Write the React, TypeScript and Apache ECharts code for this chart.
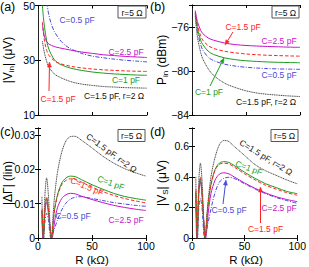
import React, { useEffect, useRef } from "react";
import * as echarts from "echarts";

const FONT = "'Liberation Sans', Arial, Helvetica, sans-serif";
const C_GRAY = "#4a4a4a";
const C_GREEN = "#1c9c1c";
const C_RED = "#ff2424";
const C_MAG = "#c814c8";
const C_BLUE = "#4848d8";

// ---------- panel (a): |Vin| (uV)
const rA = [4, 5, 6, 8, 10, 15, 20, 30, 40, 50, 60, 70, 80, 90, 100];
const rABlue = [8, 10, 12, 15, 20, 25, 30, 40, 50, 60, 70, 80, 90, 100];
const vinMag = [43, 40.5, 38.5, 36.8, 35.9, 35, 34.5, 33.7, 33.0, 32.5, 32.0, 31.7, 31.4, 31.2, 31.0];
const vinRed = [44, 40, 37, 33.5, 31.8, 29.8, 28.8, 27.8, 27.2, 26.8, 26.5, 26.3, 26.1, 26.0, 25.9];
const vinGreen = [50, 45.5, 42, 37, 34, 30.2, 28.6, 27.1, 26.3, 25.7, 25.3, 25.0, 24.8, 24.6, 24.5];
const vinGray = [37, 34.5, 32.5, 29.5, 27.5, 25, 23.8, 22.2, 21.3, 20.8, 20.4, 20.2, 20.0, 19.9, 19.8];
const vinBlue = [51, 46.5, 43.5, 40.5, 37.5, 35.5, 34.2, 32.5, 31.5, 30.9, 30.4, 30.0, 29.7, 29.4];

// ---------- panel (b): Pin (dBm)
const rB = [3, 5, 8, 10, 15, 20, 30, 40, 50, 60, 70, 80, 90, 100];
const pinMag = [-74.5, -75.5, -76.3, -76.6, -77.0, -77.2, -77.45, -77.6, -77.68, -77.73, -77.77, -77.8, -77.83, -77.85];
const pinRed = [-74.6, -75.8, -76.8, -77.2, -77.7, -77.95, -78.2, -78.35, -78.45, -78.52, -78.57, -78.6, -78.63, -78.65];
const pinGreen = [-74.7, -76.1, -77.2, -77.6, -78.2, -78.5, -78.8, -78.97, -79.07, -79.13, -79.18, -79.21, -79.23, -79.25];
const pinBlue = [-74.8, -76.4, -77.6, -78.1, -78.75, -79.05, -79.38, -79.55, -79.66, -79.73, -79.78, -79.81, -79.83, -79.85];
const pinGray = [-75.0, -76.9, -78.3, -78.9, -79.8, -80.4, -81.1, -81.5, -81.8, -82.0, -82.12, -82.2, -82.27, -82.32];

// ---------- panel (c): |dGamma| (lin)
const rCGray = [3.6, 4.8, 6.5, 8, 9.5, 12.3, 15, 18, 22, 26, 30, 34, 40, 50, 60, 70, 80, 90, 100];
const gamGray = [0.012, 0, 0.013, 0.0175, 0.013, 0, 0.011, 0.019, 0.025, 0.0283, 0.0295, 0.0296, 0.0285, 0.0262, 0.0238, 0.0218, 0.0202, 0.019, 0.018];
const rCGreen = [3.8, 5, 6.5, 8, 9.5, 12.5, 15, 18, 22, 26, 30, 35, 40, 50, 60, 70, 80, 90, 100];
const gamGreen = [0.008, 0, 0.008, 0.0115, 0.0085, 0, 0.0075, 0.0125, 0.016, 0.0175, 0.018, 0.0178, 0.017, 0.0155, 0.0142, 0.013, 0.0121, 0.0115, 0.011];
const rCRed = [3.8, 5, 6.5, 8, 9.5, 12.5, 15, 18, 22, 26, 30, 35, 40, 50, 60, 70, 80, 90, 100];
const gamRed = [0.0085, 0, 0.009, 0.012, 0.009, 0, 0.0075, 0.0122, 0.0155, 0.0168, 0.0172, 0.017, 0.0163, 0.0148, 0.0135, 0.0124, 0.0115, 0.0108, 0.0102];
const rCMag = [3.5, 4.5, 6.5, 8, 9.5, 13, 15.5, 18, 22, 26, 30, 35, 40, 50, 60, 70, 80, 90, 100];
const gamMag = [0.008, 0, 0.0085, 0.0105, 0.0075, 0, 0.005, 0.0088, 0.0115, 0.0126, 0.013, 0.0128, 0.0122, 0.0112, 0.0103, 0.0095, 0.0089, 0.0084, 0.008];
const rCBlue = [3.8, 5.2, 6.5, 8, 9.5, 12, 15, 18, 22, 26, 30, 35, 40, 50, 60, 70, 80, 90, 100];
const gamBlue = [0.005, 0, 0.005, 0.0072, 0.0055, 0, 0.0025, 0.0052, 0.0082, 0.0102, 0.0113, 0.0119, 0.012, 0.0115, 0.0109, 0.0103, 0.0099, 0.0095, 0.0092];

// ---------- panel (d): |Vs| (uV)
const vsGray = [0.40, 0, 0.38, 0.49, 0.38, 0, 0.22, 0.40, 0.53, 0.61, 0.638, 0.635, 0.60, 0.54, 0.48, 0.44, 0.41, 0.38, 0.355];
const vsGreen = [0.30, 0, 0.30, 0.39, 0.30, 0, 0.20, 0.35, 0.45, 0.49, 0.50, 0.495, 0.475, 0.43, 0.39, 0.355, 0.33, 0.305, 0.29];
const vsRed = [0.32, 0, 0.31, 0.40, 0.31, 0, 0.20, 0.345, 0.445, 0.482, 0.49, 0.485, 0.465, 0.42, 0.38, 0.345, 0.32, 0.297, 0.28];
const vsMag = [0.30, 0, 0.30, 0.37, 0.28, 0, 0.17, 0.29, 0.38, 0.418, 0.427, 0.42, 0.40, 0.36, 0.325, 0.295, 0.27, 0.252, 0.238];
const vsBlue = [0.20, 0, 0.20, 0.26, 0.20, 0, 0.09, 0.19, 0.30, 0.365, 0.39, 0.397, 0.39, 0.355, 0.32, 0.29, 0.265, 0.245, 0.227];

// ---------- axes ticks
const xTicks = [0, 50, 100];
const yTicksA = [10, 30, 50];
const yTicksB = [-84, -80, -76];
const yTicksC = [0, 0.01, 0.02, 0.03];
const yTicksD = [0, 0.2, 0.4, 0.6];

const pts = (xs: number[], ys: number[]) => xs.map((x, i) => [x, ys[i]]);

const STY: Record<string, { color: string; type: any }> = {
  gray: { color: C_GRAY, type: [1.2, 0.6] },
  green: { color: C_GREEN, type: "solid" },
  red: { color: C_RED, type: [3.5, 2] },
  mag: { color: C_MAG, type: "solid" },
  blue: { color: C_BLUE, type: [4, 1.5, 1, 1.5] },
};

function line(gi: number, key: string, data: number[][]) {
  const s = STY[key];
  return {
    type: "line",
    xAxisIndex: gi,
    yAxisIndex: gi,
    data,
    symbol: "none",
    showSymbol: false,
    smooth: 0.3,
    silent: true,
    clip: true,
    lineStyle: { color: s.color, width: 1, type: s.type },
  };
}

const fmtTick = (ticks: number[]) => (v: number) => {
  const t = ticks.find((k) => Math.abs(k - v) < 1e-9);
  if (t === undefined) return "";
  return String(t).replace("-", "\u2212");
};

const GRIDS = [
  { left: 38, top: 5, width: 109, height: 110 },
  { left: 192, top: 5, width: 108, height: 110 },
  { left: 38, top: 128, width: 108, height: 110 },
  { left: 192, top: 128, width: 107, height: 110 },
];
const YR = [
  { min: 10, max: 50, interval: 20, ticks: yTicksA },
  { min: -84, max: -74, interval: 4, ticks: yTicksB },
  { min: 0, max: 0.032, interval: 0.01, ticks: yTicksC },
  { min: 0, max: 0.72, interval: 0.2, ticks: yTicksD },
];

function txt(x: number, y: number, text: string, color: string, size = 8.5, rotation = 0, align = "center", rich?: any) {
  return {
    type: "text",
    x,
    y,
    rotation,
    z: 100,
    silent: true,
    style: {
      text,
      fill: color,
      fontSize: size,
      fontFamily: FONT,
      align,
      verticalAlign: "middle",
      textAlign: align,
      textVerticalAlign: "middle",
      rich,
    },
  };
}

function arrow(x1: number, y1: number, x2: number, y2: number, color: string) {
  const dx = x2 - x1, dy = y2 - y1;
  const L = Math.hypot(dx, dy);
  const ux = dx / L, uy = dy / L;
  const hl = 5, hw = 2;
  const bx = x2 - ux * hl, by = y2 - uy * hl;
  return [
    { type: "line", z: 100, silent: true, shape: { x1, y1, x2: bx, y2: by }, style: { stroke: color, lineWidth: 1 } },
    {
      type: "polygon",
      z: 100,
      silent: true,
      shape: { points: [[x2, y2], [bx - uy * hw, by + ux * hw], [bx + uy * hw, by - ux * hw]] },
      style: { fill: color, stroke: color, lineWidth: 0.5 },
    },
  ];
}

function box(x: number, y: number, w: number, h: number) {
  return [
    { type: "rect", z: 99, silent: true, shape: { x, y, width: w, height: h }, style: { fill: "#fff", stroke: "#555", lineWidth: 1 } },
    txt(x + w / 2, y + h / 2 + 0.5, "r=5 \u03a9", "#111", 8.5),
  ];
}

export default function App() {
  const ref = useRef<HTMLDivElement>(null);
  useEffect(() => {
    document.body.style.margin = "0";
    const chart = echarts.init(ref.current!, undefined, { renderer: "svg" });
    const xAxis: any[] = [];
    const yAxis: any[] = [];
    const tick = { inside: true, length: 3, lineStyle: { color: "#000", width: 1 } };
    const axLine = { show: true, lineStyle: { color: "#222", width: 1 } };
    for (let pass = 0; pass < 2; pass++) {
      GRIDS.forEach((_, i) => {
        xAxis.push({
          gridIndex: i,
          type: "value",
          position: pass === 0 ? "bottom" : "top",
          min: 0,
          max: 100,
          interval: 50,
          axisLine: axLine,
          axisTick: tick,
          splitLine: { show: false },
          axisLabel: {
            show: pass === 0 && i >= 2,
            fontSize: 10.5,
            fontFamily: FONT,
            color: "#000",
            margin: 2,
            formatter: fmtTick(xTicks),
          },
        });
        yAxis.push({
          gridIndex: i,
          type: "value",
          position: pass === 0 ? "left" : "right",
          min: YR[i].min,
          max: YR[i].max,
          interval: YR[i].interval,
          axisLine: axLine,
          axisTick: tick,
          splitLine: { show: false },
          axisLabel: {
            show: pass === 0,
            fontSize: 10.5,
            fontFamily: FONT,
            color: "#000",
            margin: 3,
            formatter: fmtTick(YR[i].ticks),
          },
        });
      });
    }

    const series = [
      line(0, "gray", pts(rA, vinGray)),
      line(0, "blue", pts(rABlue, vinBlue)),
      line(0, "green", pts(rA, vinGreen)),
      line(0, "red", pts(rA, vinRed)),
      line(0, "mag", pts(rA, vinMag)),

      line(1, "gray", pts(rB, pinGray)),
      line(1, "blue", pts(rB, pinBlue)),
      line(1, "green", pts(rB, pinGreen)),
      line(1, "red", pts(rB, pinRed)),
      line(1, "mag", pts(rB, pinMag)),

      line(2, "gray", pts(rCGray, gamGray)),
      line(2, "blue", pts(rCBlue, gamBlue)),
      line(2, "mag", pts(rCMag, gamMag)),
      line(2, "green", pts(rCGreen, gamGreen)),
      line(2, "red", pts(rCRed, gamRed)),

      line(3, "gray", pts(rCGray, vsGray)),
      line(3, "blue", pts(rCBlue, vsBlue)),
      line(3, "mag", pts(rCMag, vsMag)),
      line(3, "green", pts(rCGreen, vsGreen)),
      line(3, "red", pts(rCRed, vsRed)),
    ];

    const sub = { s: { fontSize: 8, fontFamily: FONT, fill: "#000", padding: [6, 0, 0, 0] } };
    const graphic: any[] = [
      // panel letters
      txt(0, 7, "(a)", "#000", 12.5, 0, "left"),
      txt(150, 7, "(b)", "#000", 12.5, 0, "left"),
      txt(0, 132, "(c)", "#000", 12.5, 0, "left"),
      txt(150, 132, "(d)", "#000", 12.5, 0, "left"),
      // axis names
      txt(8, 60, "|V{s|in}| (\u03bcV)", "#000", 12, Math.PI / 2, "center", sub),
      txt(162, 60, "P{s|in} (dBm)", "#000", 12, Math.PI / 2, "center", sub),
      txt(8, 183, "|\u0394\u0393| (lin)", "#000", 12, Math.PI / 2, "center"),
      txt(162, 183, "|V{s|S}| (\u03bcV)", "#000", 12, Math.PI / 2, "center", sub),
      txt(92, 260, "R (k\u03a9)", "#000", 11.5),
      txt(246, 260, "R (k\u03a9)", "#000", 11.5),
      // r=5 boxes
      ...box(118, 6, 28, 12),
      ...box(272, 6, 27, 12),
      ...box(118, 129.5, 27, 12),
      ...box(271, 129.5, 27, 12),
      // panel (a) annotations
      txt(77, 20, "C=0.5 pF", C_BLUE),
      txt(126, 51.5, "C=2.5 pF", C_MAG),
      txt(126, 80, "C=1 pF", C_GREEN),
      txt(114, 95.5, "C=1.5 pF, r=2 \u03a9", "#111"),
      txt(58, 99, "C=1.5 pF", C_RED),
      ...arrow(49, 91, 49.5, 62, C_RED),
      // panel (b)
      txt(243, 27, "C=1.5 pF", C_RED),
      ...arrow(233, 32, 225, 45, C_RED),
      txt(279, 40.5, "C=2.5 pF", C_MAG),
      txt(279, 75, "C=0.5 pF", C_BLUE),
      txt(209, 91.5, "C=1 pF", C_GREEN),
      ...arrow(210, 86, 224, 58, C_GREEN),
      txt(266, 102, "C=1.5 pF, r=2 \u03a9", "#111"),
      // panel (c)
      txt(111.5, 153, "C=1.5 pF, r=2 \u03a9", "#111", 8.5, -0.63),
      txt(111, 183, "C=1 pF", C_GREEN, 8.5, -0.35),
      txt(87, 186.5, "C=1.5 pF", C_RED, 8.5, -0.4),
      txt(73, 216, "C=0.5 pF", C_BLUE),
      txt(126, 220, "C=2.5 pF", C_MAG),
      // panel (d)
      txt(266, 157.5, "C=1.5 pF, r=2 \u03a9", "#111", 8.5, -0.55),
      txt(249, 168, "C=1 pF", C_GREEN, 8.5, -0.35),
      txt(229, 210, "C=0.5 pF", C_BLUE),
      ...arrow(223, 204, 226, 180, C_BLUE),
      txt(279, 208, "C=2.5 pF", C_MAG),
      txt(265.5, 228.5, "C=1.5 pF", C_RED),
      ...arrow(260.5, 223, 260.5, 187, C_RED),
    ];

    chart.setOption({
      animation: false,
      backgroundColor: "#fff",
      textStyle: { fontFamily: FONT },
      grid: GRIDS.map((g) => ({ ...g, containLabel: false })),
      xAxis,
      yAxis,
      series,
      graphic,
    });
    return () => chart.dispose();
  }, []);
  return <div ref={ref} style={{ width: 309, height: 267 }} />;
}
